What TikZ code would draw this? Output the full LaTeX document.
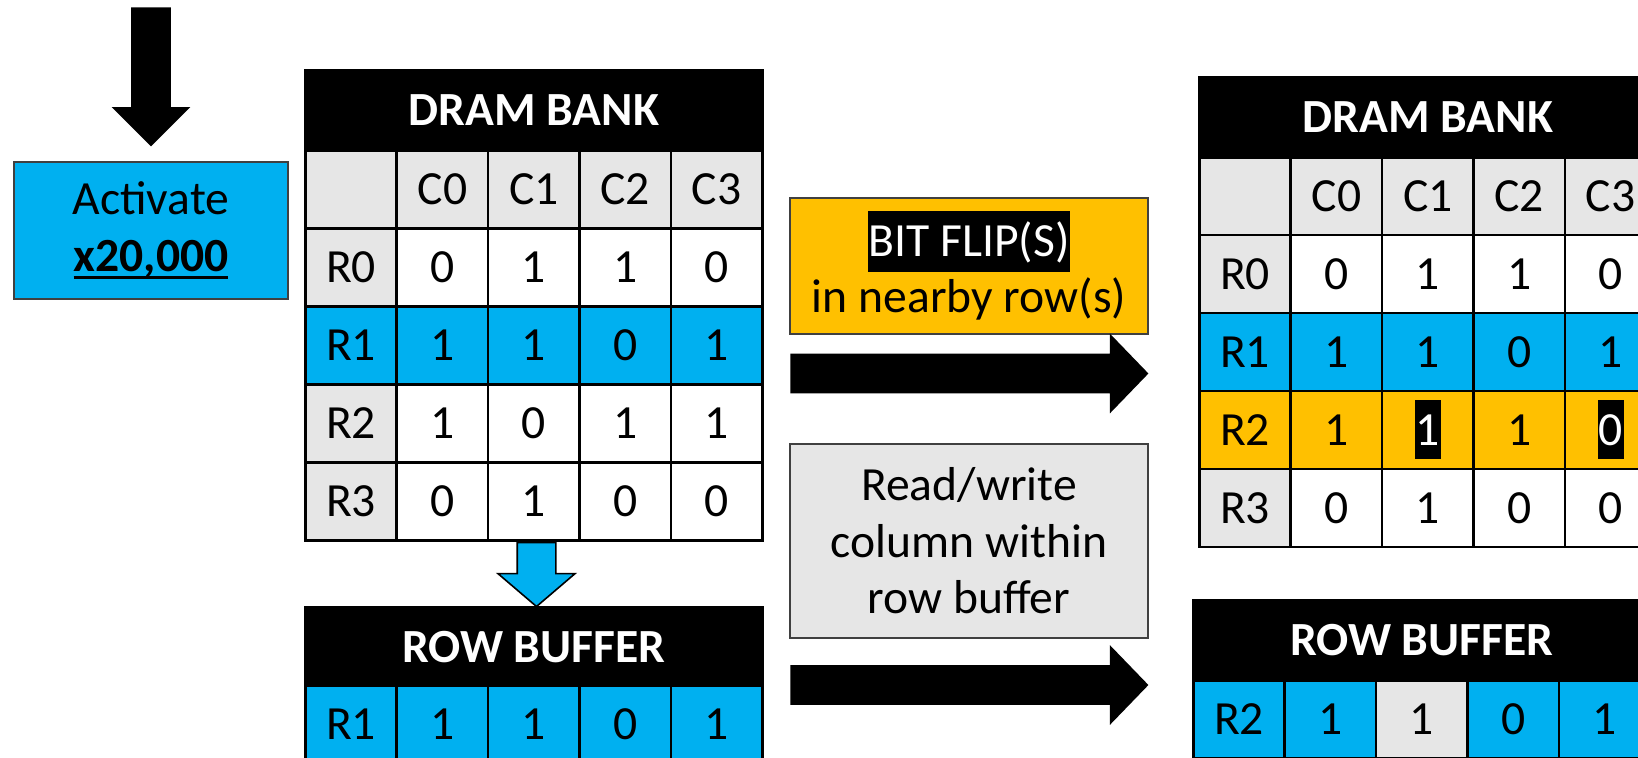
\documentclass[tikz,border=0pt]{standalone}
\usepackage{fontspec}
\setmainfont{Carlito}
\usepackage{tikz}
\usetikzlibrary{shapes.arrows}
\usetikzlibrary{positioning}
\definecolor{rowblue}{HTML}{00B0F0}
\definecolor{floworange}{HTML}{FFC000}
\definecolor{labelgray}{HTML}{E6E6E6}
\newcommand{\cellfont}{\fontsize{23.8}{28.2}\selectfont}
\newcommand{\notefont}{\cellfont\lineskiplimit=-\maxdimen}
\newcommand{\blackmark}[1]{{\setlength{\fboxsep}{0.4pt}%
	\colorbox{black}{\textcolor{white}{\vrule height 22.1pt depth 7.2pt width 0pt#1}}}}
\newcommand{\thickul}[1]{\setbox0\hbox{#1}\rlap{\vrule height -2.6pt depth 4.1pt width \wd0}\box0}
\tikzset{
	cell/.style={draw=black, fill=white, line width=1.3pt, anchor=north west,
		minimum width=45.7pt, minimum height=39pt, inner sep=0pt, font=\cellfont},
	rowlabel/.style={cell, fill=labelgray},
	header/.style={cell, fill=black, text=white, minimum width=228.5pt,
		minimum height=40pt, font=\cellfont\bfseries},
	flipped/.style={fill=black, text=white, inner xsep=0.5pt, inner ysep=0pt,
		minimum height=29.5pt, font=\cellfont},
	notebox/.style={draw=black!75, line width=0.8pt, minimum width=179pt,
		inner sep=0pt, align=center, font=\notefont},
	blockarrow/.style={single arrow, fill=black, anchor=tail, inner xsep=0pt,
		inner ysep=9.75pt, single arrow head extend=10pt, single arrow tip angle=92},
}

\begin{document}
\begin{tikzpicture}[x=0.5pt, y=-0.5pt]
	\useasboundingbox (0,0) rectangle (1638,757);
	\clip (0,0) rectangle (1638,757);
	% activation
	\node[blockarrow, rotate=-90, minimum height=69.5pt,
		single arrow head extend=9.75pt, single arrow tip angle=90] (hit) at (151,7) {};
	\node[notebox, fill=rowblue, minimum width=136.8pt, minimum height=68.5pt] (act)
		at (151,230.5) {Activate\\\textbf{\thickul{x20,000}}};
	%
	% bank before
	\node[header] (lbank) at (304,69) {DRAM BANK};
	\foreach \c [count=\i from 0] in {{},C0,C1,C2,C3}
		\node[rowlabel] (lc\i) at (304+\i*91.4,149) {\c};
	\foreach \r/\lf/\df/\bits [count=\j from 0] in {R0/labelgray/white/{0,1,1,0},
		R1/rowblue/rowblue/{1,1,0,1}, R2/labelgray/white/{1,0,1,1},
		R3/labelgray/white/{0,1,0,0}} {
		\node[rowlabel, fill=\lf] (l\r) at (304,227+\j*78) {\r};
		\foreach \b [count=\i] in \bits
			\node[cell, fill=\df] (l\r-\i) at (304+\i*91.4,227+\j*78) {\b};
	}
	%
	\node[blockarrow, fill=rowblue, draw=black, line width=0.8pt, rotate=-90,
		minimum height=32pt, inner ysep=9.25pt, single arrow head extend=9.6pt,
		single arrow tip angle=99] (load) at (536.5,541.7) {};
	%
	% row buffer before
	\node[header] (lbuf) at (304,606) {ROW BUFFER};
	\node[rowlabel, fill=rowblue] (lbR1) at (304,684) {R1};
	\foreach \b [count=\i] in {1,1,0,1}
		\node[cell, fill=rowblue] (lb-\i) at (304+\i*91.4,684) {\b};
	%
	% middle notes
	\node[notebox, fill=floworange, minimum height=68pt] (flipnote)
		at (969,266) {\blackmark{BIT FLIP(S)}\\in nearby row(s)};
	\node[blockarrow, minimum height=179pt] (toflip) at (790,373.5) {};
	\node[notebox, fill=labelgray, minimum height=97pt] (rwnote)
		at (969,541) {Read/write\\column within\\row buffer};
	\node[blockarrow, minimum height=179pt] (torw) at (790,685) {};
	%
	% bank after
	\node[header] (rbank) at (1198,76) {DRAM BANK};
	\foreach \c [count=\i from 0] in {{},C0,C1,C2,C3}
		\node[rowlabel] (rc\i) at (1198+\i*91.4,156) {\c};
	\foreach \r/\lf/\df/\bits [count=\j from 0] in {R0/labelgray/white/{0,1,1,0},
		R1/rowblue/rowblue/{1,1,0,1}, R2/floworange/floworange/{1,{},1,{}},
		R3/labelgray/white/{0,1,0,0}} {
		\node[rowlabel, fill=\lf] (r\r) at (1198,233.5+\j*78) {\r};
		\foreach \b [count=\i] in \bits
			\node[cell, fill=\df] (r\r-\i) at (1198+\i*91.4,233.5+\j*78) {\b};
	}
	\node[flipped] (flipA) at (rR2-2.center) {1};
	\node[flipped] (flipB) at (rR2-4.center) {0};
	%
	% row buffer after
	\node[header] (rbuf) at (1192,599) {ROW BUFFER};
	\node[rowlabel, fill=rowblue] (rbR2) at (1192,679) {R2};
	\foreach \b/\f [count=\i] in {1/rowblue,1/labelgray,0/rowblue,1/rowblue}
		\node[cell, fill=\f] (rb-\i) at (1192+\i*91.4,679) {\b};
\end{tikzpicture}
\end{document}
